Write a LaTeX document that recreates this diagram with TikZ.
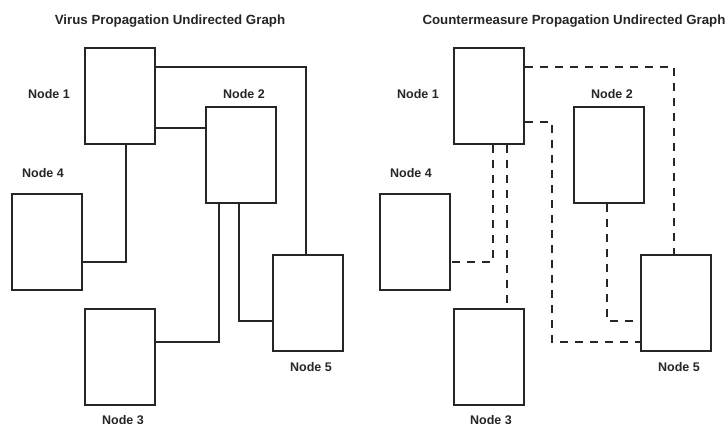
\documentclass[tikz,border=0pt]{standalone}
\usepackage{fontspec}
\setmainfont{Liberation Sans}
\begin{document}
\begin{tikzpicture}[x=1pt,y=-1pt,
  box/.style={draw=black!85, line width=2pt, minimum width=70pt, minimum height=96pt, inner sep=0pt, fill=white},
  lbl/.style={font=\fontsize{12.5}{14}\selectfont\bfseries, text=black!85, inner sep=0pt},
  ttl/.style={font=\fontsize{13.3}{15}\selectfont\bfseries, text=black!85, inner sep=0pt},
  wire/.style={draw=black!85, line width=2pt},
  dwire/.style={wire, dash pattern=on 8pt off 7pt}]
\fill[white] (0,0) rectangle (727,423);
\useasboundingbox (0,0) rectangle (727,423);
% titles
\node[ttl] (tl) at (170,21) {Virus Propagation Undirected Graph};
\node[ttl] (tr) at (574,21) {Countermeasure Propagation Undirected Graph};
% left graph
\node[box] (L1) at (120,96) {};
\node[box] (L2) at (241,155) {};
\node[box] (L4) at (47,242) {};
\node[box] (L3) at (120,357) {};
\node[box] (L5) at (308,303) {};
\node[lbl] (l1) at (49,94) {Node 1};
\node[lbl] (l2) at (244,94) {Node 2};
\node[lbl] (l4) at (43,173) {Node 4};
\node[lbl] (l3) at (123,420) {Node 3};
\node[lbl] (l5) at (311,367) {Node 5};
\draw[wire] ([yshift=-20pt]L1.north east) -| ([xshift=-2pt]L5.north);
\draw[wire] ([yshift=17pt]L1.south east) coordinate (a12) -- (a12 -| L2.west);
\draw[wire] ([xshift=6pt]L1.south) |- ([yshift=-20pt]L4.east);
\draw[wire] ([xshift=-22pt]L2.south) |- ([yshift=15pt]L3.east);
\draw[wire] ([xshift=-2pt]L2.south) |- ([yshift=-18pt]L5.west);
% right graph
\node[box] (R1) at (489,96) {};
\node[box] (R2) at (609,155) {};
\node[box] (R4) at (415,242) {};
\node[box] (R3) at (489,357) {};
\node[box] (R5) at (676,303) {};
\node[lbl] (r1) at (418,94) {Node 1};
\node[lbl] (r2) at (612,94) {Node 2};
\node[lbl] (r4) at (411,173) {Node 4};
\node[lbl] (r3) at (491,420) {Node 3};
\node[lbl] (r5) at (679,367) {Node 5};
\draw[dwire] ([yshift=-20pt]R1.north east) -| ([xshift=-2pt]R5.north);
\draw[dwire] ([yshift=23pt]R1.south east) -| ([xshift=-88pt,yshift=10pt]R5.south west) -- ([yshift=10pt]R5.south west);
\draw[dwire] ([xshift=4pt]R1.south) |- ([yshift=-20pt]R4.east);
\draw[dwire] ([xshift=18pt]R1.south) -- ([xshift=18pt]R3.north);
\draw[dwire] ([xshift=-2pt]R2.south) |- ([yshift=-18pt]R5.west);
\end{tikzpicture}
\end{document}
